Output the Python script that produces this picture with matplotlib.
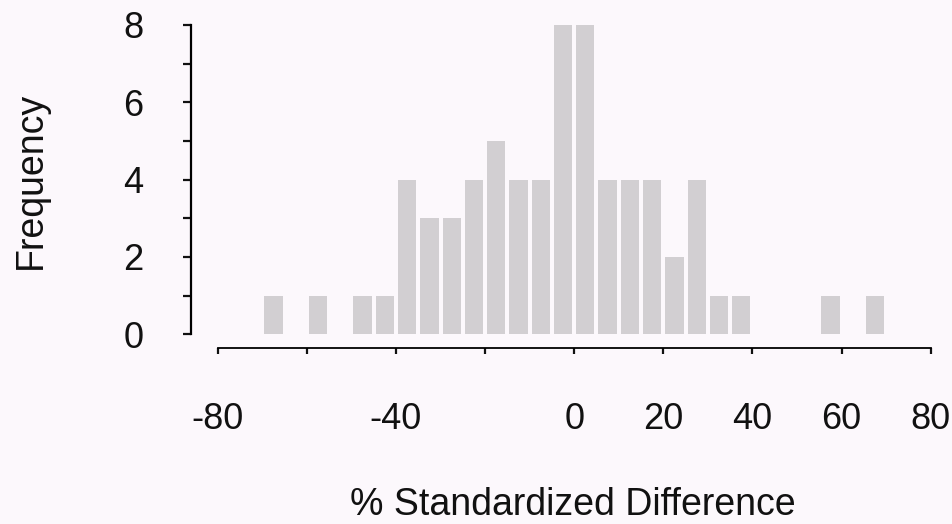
import numpy as np
import matplotlib
matplotlib.use('Agg')
import matplotlib.pyplot as plt
from matplotlib.ticker import FixedLocator

# histogram bins (5-unit wide, centres) and frequencies
bin_centers = [-67.5, -57.5, -47.5, -42.5, -37.5, -32.5, -27.5, -22.5, -17.5, -12.5,
               -7.5, -2.5, 2.5, 7.5, 12.5, 17.5, 22.5, 27.5, 32.5, 37.5, 57.5, 67.5]
counts = [1, 1, 1, 1, 4, 3, 3, 4, 5, 4,
          4, 8, 8, 4, 4, 4, 2, 4, 1, 1, 1, 1]

x_labelled = [-80, -40, 0, 20, 40, 60, 80]
x_unlabelled = [-60, -20]
y_labelled = [0, 2, 4, 6, 8]
y_unlabelled = [1, 3, 5, 7]

bg = '#fcf8fc'
bar_color = '#d2cfd2'
W, H = 953, 524

plt.rcParams['font.family'] = ['Liberation Sans', 'DejaVu Sans']
plt.rcParams['axes.unicode_minus'] = False
fig = plt.figure(figsize=(W / 100, H / 100), dpi=100, facecolor=bg)
ax = fig.add_axes([217.7 / W, (H - 334.3) / H, 713 / W, 309.3 / H])
ax.set_facecolor(bg)

ax.bar(bin_centers, counts, width=4.1, color=bar_color, edgecolor='none')

ax.set_xlim(-80, 80)
ax.set_ylim(0, 8)

for s in ['top', 'right']:
    ax.spines[s].set_visible(False)
ax.spines['left'].set_position(('outward', 19.5))
ax.spines['bottom'].set_position(('outward', 10))
ax.spines['left'].set_linewidth(1.6)
ax.spines['bottom'].set_linewidth(1.3)

ax.xaxis.set_major_locator(FixedLocator(x_labelled))
ax.xaxis.set_minor_locator(FixedLocator(x_unlabelled))
ax.yaxis.set_major_locator(FixedLocator(y_labelled))
ax.yaxis.set_minor_locator(FixedLocator(y_unlabelled))

ax.tick_params(axis='x', which='both', direction='out', length=4.5, width=1.6,
               colors='#111111', labelsize=26, pad=34)
ax.tick_params(axis='y', which='both', direction='out', length=6, width=1.6,
               colors='#111111', labelsize=26, pad=28)

fig.text(573 / W, (H - 515) / H, '% Standardized Difference', fontsize=27,
         ha='center', va='baseline', color='#111111')
fig.text(31 / W, (H - 180) / H, 'Frequency', fontsize=27, rotation=90,
         ha='center', va='center', color='#111111')

fig.savefig('out.png', dpi=100, facecolor=bg)
